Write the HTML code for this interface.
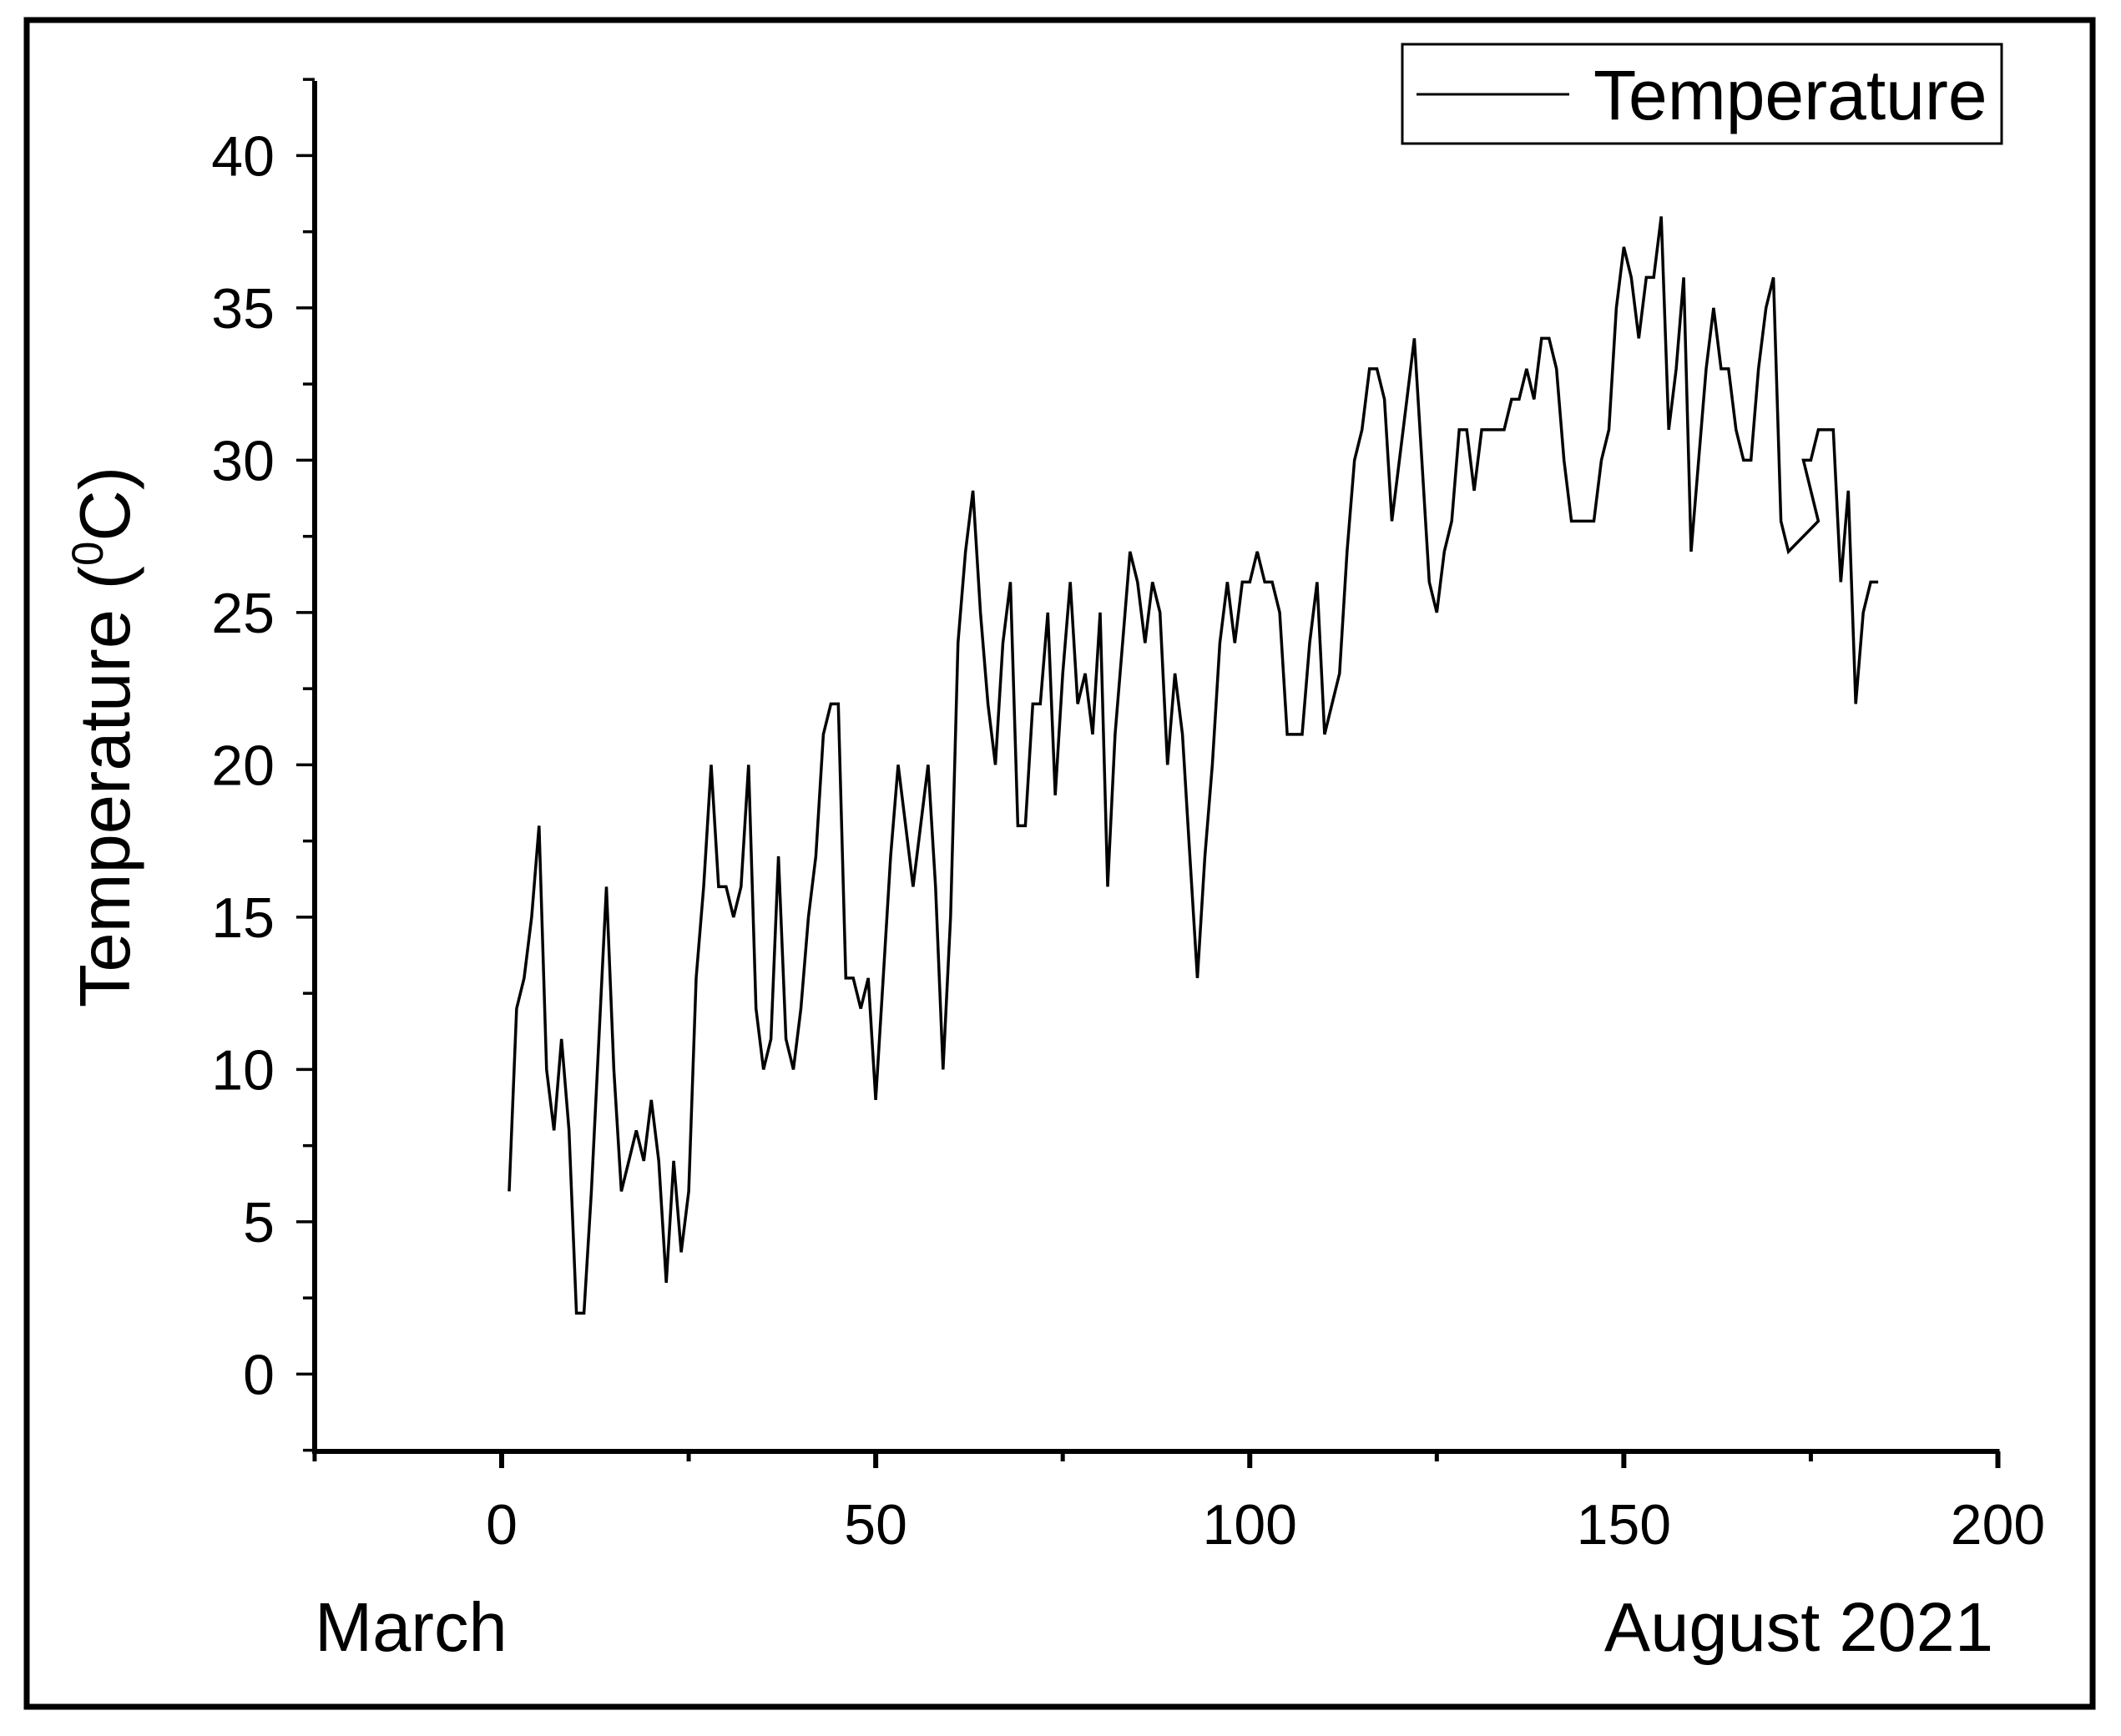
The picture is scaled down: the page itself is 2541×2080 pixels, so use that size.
<!DOCTYPE html>
<html><head><meta charset="utf-8"><style>
html,body{margin:0;padding:0;background:#fff;}
svg{display:block;font-family:"Liberation Sans",Arial,sans-serif;}
</style></head><body>
<svg id="chart" width="2541" height="2080" viewBox="0 0 2541 2080" xmlns="http://www.w3.org/2000/svg">
<rect x="32" y="24" width="2475" height="2021" fill="#fff" stroke="#000" stroke-width="7"/>
<g id="axes"></g>
<polyline id="series" fill="none" stroke="#000" stroke-width="3.5" stroke-linejoin="miter"/>
<g>
<rect x="1680" y="53" width="718" height="119" fill="#fff" stroke="#000" stroke-width="3"/>
<line x1="1697" y1="113" x2="1880" y2="113" stroke="#000" stroke-width="3"/>
<text x="1909" y="143" font-size="84">Temperature</text>
</g>
<text transform="translate(155,883) rotate(-90)" text-anchor="middle" font-size="85">Temperature (<tspan font-size="53" dy="-32">0</tspan><tspan dy="32">C)</tspan></text>
<text x="377" y="1978" font-size="83">March</text>
<text x="2388" y="1978" font-size="83" text-anchor="end">August 2021</text>
</svg>
<script>
const days = [1,2,3,4,5,6,7,8,9,10,11,12,13,14,15,16,17,18,19,20,21,22,23,24,25,26,27,28,29,30,31,32,33,34,35,36,37,38,39,40,41,42,43,44,45,46,47,48,49,50,51,52,53,54,55,56,57,58,59,60,61,62,63,64,65,66,67,68,69,70,71,72,73,74,75,76,77,78,79,80,81,82,83,84,85,86,87,88,89,90,91,92,93,94,95,96,97,98,99,100,101,102,103,104,105,106,107,108,109,110,111,112,113,114,115,116,117,118,119,120,121,122,123,124,125,126,127,128,129,130,131,132,133,134,135,136,137,138,139,140,141,142,143,144,145,146,147,148,149,150,151,152,153,154,155,156,157,158,159,160,161,162,163,164,165,166,167,168,169,170,171,172,176,174,175,176,177,178,179,180,181,182,183,184];
const temps = [6,12,13,15,18,10,8,11,8,2,2,6,11,16,10,6,7,8,7,9,7,3,7,4,6,13,16,20,16,16,15,16,20,12,10,11,17,11,10,12,15,17,21,22,22,13,13,12,13,9,13,17,20,18,16,18,20,16,10,15,24,27,29,25,22,20,24,26,18,18,22,22,25,19,23,26,22,23,21,25,16,21,24,27,26,24,26,25,20,23,21,17,13,17,20,24,26,24,26,26,27,26,26,25,21,21,21,24,26,21,22,23,27,30,31,33,33,32,28,30,32,34,30,26,25,27,28,31,31,29,31,31,31,31,32,32,33,32,34,34,33,30,28,28,28,28,30,31,35,37,36,34,36,36,38,31,33,36,27,30,33,35,33,33,31,30,30,33,35,36,28,27,28,30,30,31,31,31,26,29,22,25,26,26];
const xTicks = [0,50,100,150,200];
const xMinor = [-25,25,75,125,175];
const yTicks = [0,5,10,15,20,25,30,35,40];
const yMinor = [-2.5,2.5,7.5,12.5,17.5,22.5,27.5,32.5,37.5,42.5];

const X0=601, X200=2393.5, Y0=1646.4, Y40=186.4;
function sx(v){return X0+(X200-X0)*v/200;}
function sy(v){return Y0+(Y40-Y0)*v/40;}
const NS="http://www.w3.org/2000/svg";
const axes=document.getElementById('axes');
function mk(tag,attrs){const e=document.createElementNS(NS,tag);for(const k in attrs)e.setAttribute(k,attrs[k]);axes.appendChild(e);return e;}
const axL=sx(-25), axB=1739, axT=97;
let e=mk('line',{x1:axL,y1:axT,x2:axL,y2:axB+3,stroke:'#000','stroke-width':6});


e=mk('line',{x1:axL-3,y1:axB,x2:X200+2,y2:axB,stroke:'#000','stroke-width':6});


yTicks.forEach(v=>{
  const t=mk('line',{x1:axL-22,y1:sy(v),x2:axL,y2:sy(v),stroke:'#000','stroke-width':3.5});
  
  
  const l=mk('text',{x:axL-48,y:sy(v)+24,'text-anchor':'end','font-size':68});
  l.textContent=v;
  
  
});
yMinor.forEach(v=>{
  const t=mk('line',{x1:axL-14,y1:sy(v),x2:axL,y2:sy(v),stroke:'#000','stroke-width':3.5});
  
  
});
xTicks.forEach(v=>{
  const t=mk('line',{x1:sx(v),y1:axB,x2:sx(v),y2:axB+20,stroke:'#000','stroke-width':6});
  
  
  const l=mk('text',{x:sx(v),y:1850,'text-anchor':'middle','font-size':68});
  l.textContent=v;
  
  
});
xMinor.forEach(v=>{
  const t=mk('line',{x1:sx(v),y1:axB,x2:sx(v),y2:axB+12,stroke:'#000','stroke-width':5});
  
  
});
document.getElementById('series').setAttribute('points',days.map((d,i)=>sx(d).toFixed(1)+','+sy(temps[i]).toFixed(1)).join(' '));
</script>
</body></html>
